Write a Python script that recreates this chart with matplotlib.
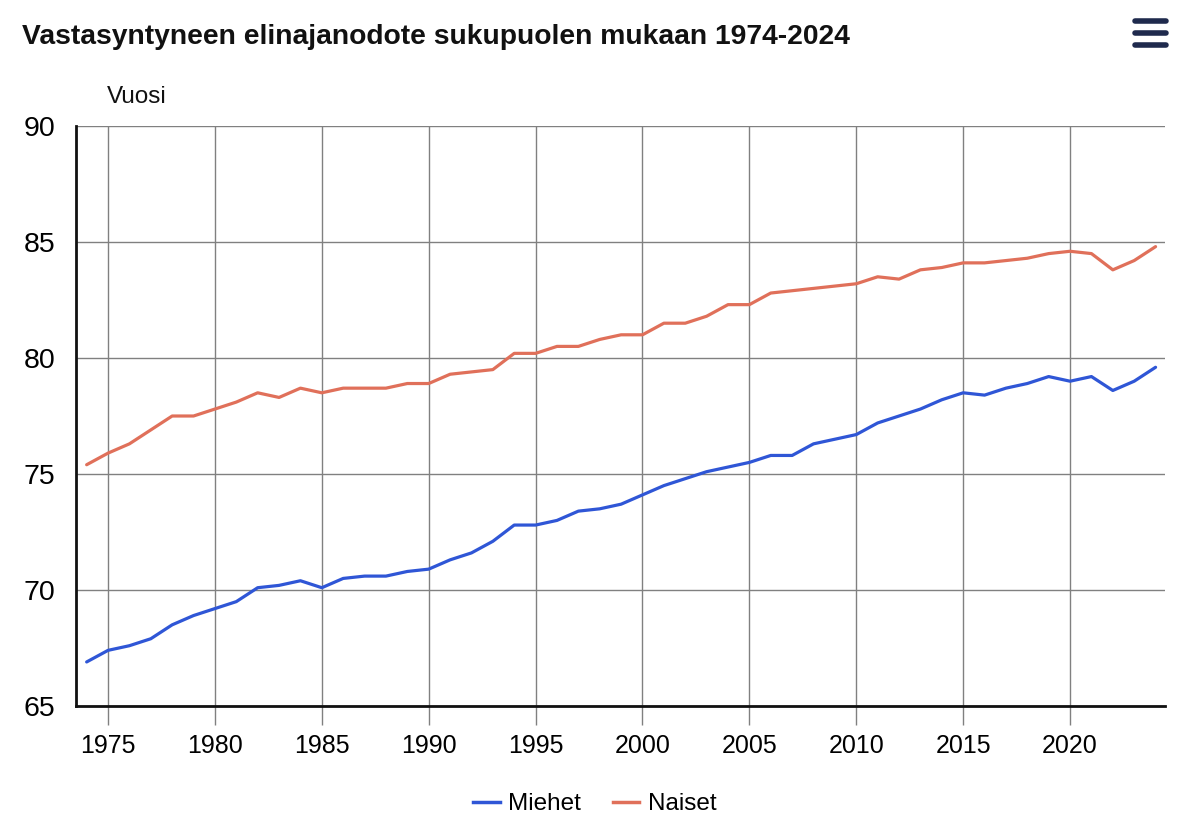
import matplotlib
matplotlib.use("Agg")
import matplotlib.pyplot as plt
from matplotlib.lines import Line2D

years = list(range(1974, 2025))
miehet = [66.9, 67.4, 67.6, 67.9, 68.5, 68.9, 69.2, 69.5, 70.1, 70.2,
          70.4, 70.1, 70.5, 70.6, 70.6, 70.8, 70.9, 71.3, 71.6, 72.1,
          72.8, 72.8, 73.0, 73.4, 73.5, 73.7, 74.1, 74.5, 74.8, 75.1,
          75.3, 75.5, 75.8, 75.8, 76.3, 76.5, 76.7, 77.2, 77.5, 77.8,
          78.2, 78.5, 78.4, 78.7, 78.9, 79.2, 79.0, 79.2, 78.6, 79.0, 79.6]
naiset = [75.4, 75.9, 76.3, 76.9, 77.5, 77.5, 77.8, 78.1, 78.5, 78.3,
          78.7, 78.5, 78.7, 78.7, 78.7, 78.9, 78.9, 79.3, 79.4, 79.5,
          80.2, 80.2, 80.5, 80.5, 80.8, 81.0, 81.0, 81.5, 81.5, 81.8,
          82.3, 82.3, 82.8, 82.9, 83.0, 83.1, 83.2, 83.5, 83.4, 83.8,
          83.9, 84.1, 84.1, 84.2, 84.3, 84.5, 84.6, 84.5, 83.8, 84.2, 84.8]
xticks = list(range(1975, 2021, 5))
yticks = [65, 70, 75, 80, 85, 90]
title = "Vastasyntyneen elinajanodote sukupuolen mukaan 1974-2024"

plt.rcParams['font.family'] = ['Liberation Sans', 'DejaVu Sans']

fig = plt.figure(figsize=(12, 8.25), dpi=100)
ax = fig.add_axes([0.0633, 0.1442, 0.9077, 0.7031])

c_m = '#2f56d6'
c_n = '#e0705a'
ax.plot(years, miehet, color=c_m, lw=2.3, label='Miehet', solid_capstyle='round')
ax.plot(years, naiset, color=c_n, lw=2.3, label='Naiset', solid_capstyle='round')

ax.set_xlim(1973.5, 2024.45)
ax.set_ylim(65, 90)
ax.set_xticks(xticks)
ax.set_yticks(yticks)
ax.grid(True, color='#808080', lw=1.0)
ax.set_axisbelow(True)
for s in ['top', 'right']:
    ax.spines[s].set_visible(False)
for s in ['left', 'bottom']:
    ax.spines[s].set_color('#111111')
    ax.spines[s].set_linewidth(2)
    ax.spines[s].set_zorder(3)
ax.tick_params(axis='x', length=14, width=1, color='#808080', labelsize=18, pad=6)
ax.tick_params(axis='y', length=0, labelsize=20.5, pad=15)

fig.text(0.018, 0.955, title, fontsize=20.3, fontweight='bold',
         va='center', ha='left', color='#111111')
fig.text(0.089, 0.883, 'Vuosi', fontsize=17.5, va='center', ha='left', color='#111111')

# menu icon
for yy in [0.975, 0.960, 0.945]:
    fig.add_artist(Line2D([0.9458, 0.9717], [yy, yy], color='#1f2a4d', lw=4,
                          solid_capstyle='round'))

handles = [Line2D([], [], color=c_m, lw=2.5), Line2D([], [], color=c_n, lw=2.5)]
fig.legend(handles, ['Miehet', 'Naiset'], loc='center', bbox_to_anchor=(0.4955, 0.025),
           ncol=2, frameon=False, fontsize=17.5, handlelength=1.1, handletextpad=0.35,
           columnspacing=1.3)

fig.savefig('out.png', dpi=100, facecolor='white')
